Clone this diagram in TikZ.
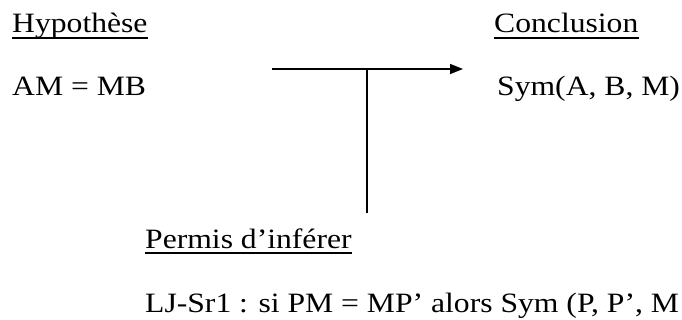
\documentclass[tikz,border=0pt]{standalone}
\usepackage{fontspec}
\setmainfont{Liberation Serif}[FakeStretch=1.13]
\usepackage{tikz}
\usetikzlibrary{arrows.meta}

\tikzset{
  texte/.style={anchor=base west, inner sep=0pt, font=\fontsize{28}{32}\selectfont},
  titre/.style={texte, append after command={
      ([yshift=-5pt]\tikzlastnode.base west) edge[line width=1.5pt] ([yshift=-5pt]\tikzlastnode.base east)}},
  fleche/.style={line width=1.6pt, -{Triangle[length=13pt, width=10pt]}},
  trait/.style={line width=1.6pt}
}

\begin{document}
\begin{tikzpicture}[x=1pt, y=-1pt]
  \useasboundingbox (0,0) rectangle (682,320);
  % hypothese et conclusion
  \node[titre] (hyp) at (12,33) {Hypothèse};
  \node[texte] (hypval) at (12,96) {AM = MB};
  \node[titre] (concl) at (494,33) {Conclusion};
  \node[texte] (conclval) at (497,96) {Sym(A, B, M)};
  % permis d'inferer
  \node[titre] (permis) at (145,248) {Permis d’inférer};
  \node[texte] (regle) at (145,312) {LJ-Sr1 : si PM = MP’ alors Sym (P, P’, M};
  % fleche d'inference
  \coordinate (depart) at (272,69);
  \coordinate (fin) at (463,69);
  \coordinate (jonction) at (367,69);
  \coordinate (bas) at (367,213);
  \draw[fleche] (depart) -- (fin);
  \draw[trait] (jonction) -- (bas);
\end{tikzpicture}
\end{document}
